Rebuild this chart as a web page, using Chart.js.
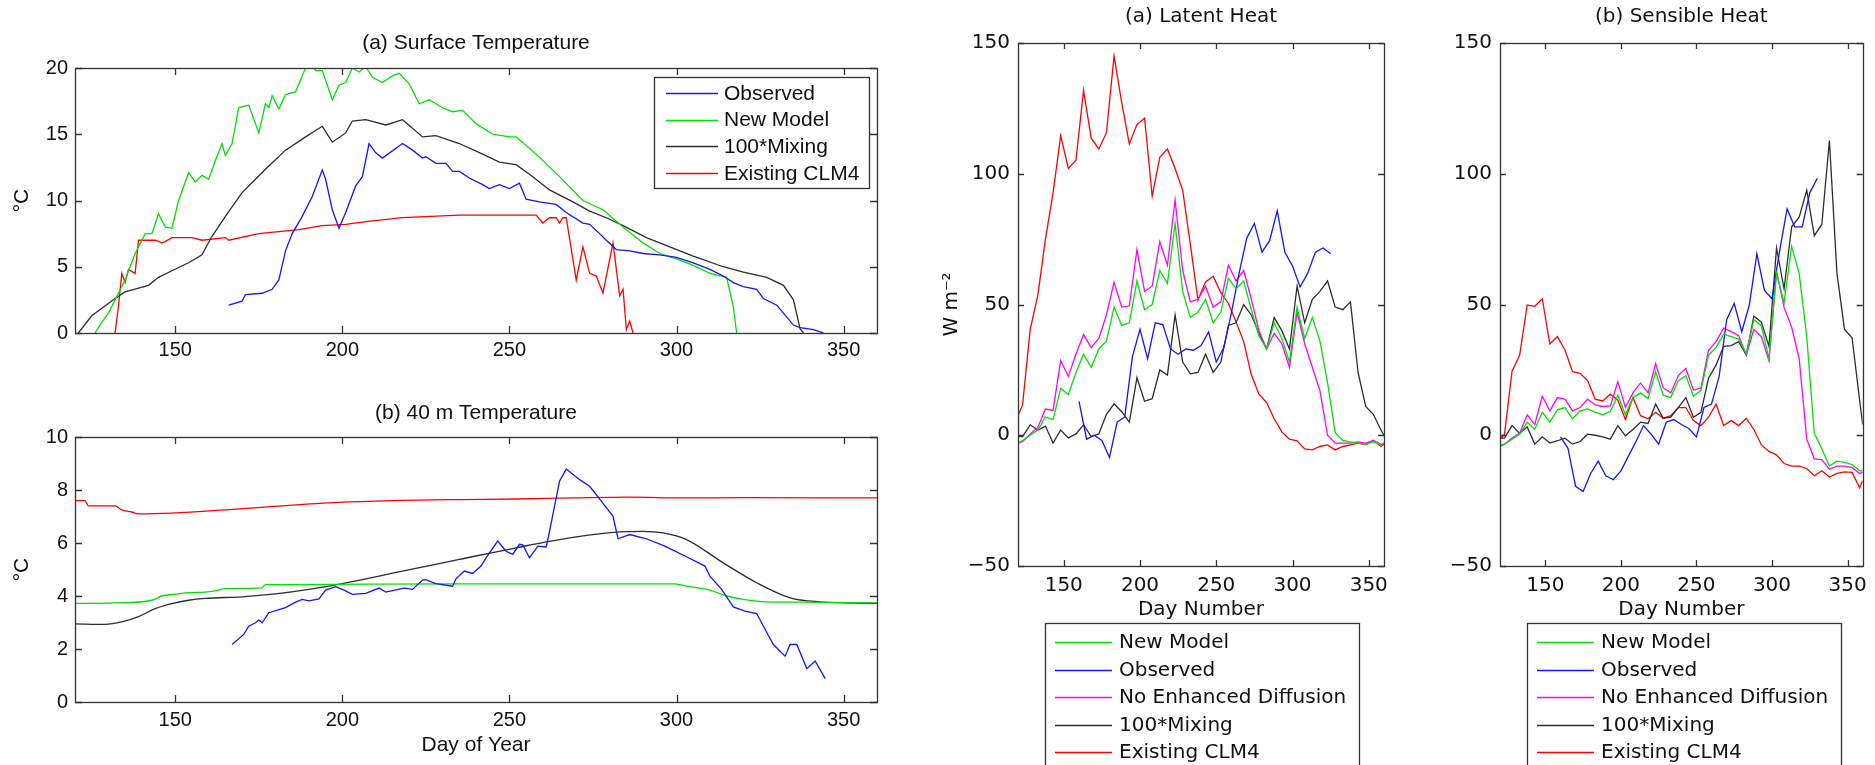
<!DOCTYPE html>
<html>
<head>
<meta charset="utf-8">
<title>Lake temperature and heat flux</title>
<script src="https://cdn.jsdelivr.net/npm/chart.js@4.4.1/dist/chart.umd.min.js"></script>
<style>
  body { margin: 0; background: #fff; }
  #wrap { position: relative; width: 1875px; height: 765px; overflow: hidden; }
  canvas { position: absolute; }
</style>
</head>
<body>
<div id="wrap">
  <canvas id="surf" width="900" height="380" style="left:0;top:0"></canvas>
  <canvas id="m40" width="900" height="385" style="left:0;top:380px"></canvas>
  <canvas id="latent" width="480" height="765" style="left:930px;top:0"></canvas>
  <canvas id="sensible" width="435" height="765" style="left:1440px;top:0"></canvas>
</div>
<script>
// ---- tick labels ----
const dayTicks = [150, 200, 250, 300, 350];
const surfTicks = [0, 5, 10, 15, 20];
const m40Ticks = [0, 2, 4, 6, 8, 10];
const fluxTicks = [-50, 0, 50, 100, 150];

// ---- (a) Surface Temperature, degC ----
const surfObsDays = [166, 170, 171, 176, 179, 181, 183, 185, 188, 191, 194, 195, 197, 199, 201, 204, 206, 208, 210, 212, 218, 221, 224, 225, 228, 231, 233, 235, 238, 242, 244, 247, 250, 253, 255, 259, 264, 267, 272, 274, 277, 279, 282, 286, 290, 295, 300, 305, 310, 314, 317, 320, 324, 326, 330, 332, 335, 337, 341, 344];
const surfObs = [2.1, 2.4, 2.9, 3.0, 3.3, 4.0, 6.2, 7.5, 8.8, 10.3, 12.3, 11.6, 9.3, 7.9, 9.1, 11.1, 11.8, 14.3, 13.6, 13.2, 14.3, 13.8, 13.2, 13.3, 12.8, 12.8, 12.2, 12.2, 11.7, 11.2, 10.9, 11.2, 10.9, 11.3, 10.1, 9.9, 9.7, 9.1, 8.3, 8.2, 7.5, 7.0, 6.3, 6.2, 6.0, 5.9, 5.7, 5.3, 4.8, 4.3, 3.8, 3.5, 3.3, 2.6, 2.1, 1.5, 0.6, 0.4, 0.25, 0];
const surfNewDays = [126, 128, 130, 132, 135, 138, 141, 143, 145, 147, 149, 151, 154, 156, 158, 160, 162, 164, 165, 167, 169, 172, 175, 177, 178, 179, 181, 183, 186, 189, 191, 192, 194, 197, 199, 201, 203, 205, 207, 209, 212, 215, 217, 220, 223, 226, 230, 233, 236, 240, 245, 250, 252, 258, 265, 272, 278, 284, 290, 295, 300, 305, 310, 315, 317, 318];
const surfNew = [0, 0.8, 1.5, 2.5, 4, 6, 7.5, 7.5, 9, 8, 7.9, 10, 12.1, 11.4, 11.9, 11.6, 13, 14.3, 13.4, 14.3, 17.0, 17.2, 15.1, 17.3, 17.0, 17.9, 16.9, 18.0, 18.2, 20.0, 20.2, 19.8, 19.8, 17.6, 18.7, 18.9, 20.0, 19.7, 20.1, 19.3, 18.9, 19.4, 19.6, 18.8, 17.3, 17.6, 17.0, 16.7, 16.8, 15.8, 15.0, 14.8, 14.8, 13.5, 11.8, 10.0, 9.3, 8.0, 6.8, 6.0, 5.6, 5.1, 4.5, 4.2, 2, 0];
const surfMixDays = [121, 125, 132, 135, 142, 145, 149, 154, 158, 161, 165, 170, 174, 178, 183, 189, 194, 197, 201, 203, 207, 213, 218, 224, 228, 235, 242, 247, 252, 257, 262, 269, 274, 279, 284, 291, 298, 305, 314, 320, 327, 332, 335, 337, 338];
const surfMix = [0, 1.3, 2.6, 3.1, 3.6, 4.2, 4.7, 5.3, 5.9, 7.3, 8.8, 10.6, 11.6, 12.6, 13.8, 14.8, 15.6, 14.4, 15.1, 16.0, 16.1, 15.7, 16.1, 14.8, 14.9, 14.3, 13.5, 12.9, 12.7, 11.8, 10.8, 9.9, 9.2, 8.7, 8.1, 7.2, 6.5, 5.8, 5.0, 4.6, 4.2, 3.6, 2.5, 0.3, 0];
const surfClmDays = [132, 133, 134, 135, 136, 138, 139, 144, 146, 147, 149, 155, 158, 165, 166, 175, 187, 194, 201, 207, 218, 235, 252, 258, 260, 262, 264, 265, 266, 267, 270, 272, 274, 276, 278, 281, 283, 284, 285, 286, 287];
const surfClm = [0, 2.0, 4.5, 3.8, 4.8, 4.5, 7.0, 7.0, 6.8, 6.9, 7.2, 7.2, 7.0, 7.2, 7.0, 7.5, 7.8, 8.1, 8.2, 8.4, 8.7, 8.9, 8.9, 8.9, 8.3, 8.7, 8.7, 8.3, 8.7, 8.7, 4.0, 6.5, 4.5, 4.3, 3.0, 6.8, 2.8, 3.3, 0.25, 0.9, 0];

// ---- (b) 40 m Temperature, degC ----
const m40ObsDays = [167, 170.5, 172, 174, 175, 176, 178, 183, 186, 188, 190, 193, 195, 198, 200.5, 203, 207, 211, 213, 218.5, 221, 224, 225, 228, 233, 234, 236.5, 239, 241.5, 243, 246.5, 249, 251, 253, 254, 256, 258.5, 261, 262, 265, 267, 271, 274, 277.5, 281, 282.5, 286, 291, 296.5, 303, 308.5, 310, 313.5, 317, 320.5, 324, 326, 329, 332.5, 334, 336, 339, 341.5, 344.5];
const m40Obs = [2.17, 2.55, 2.86, 2.99, 3.09, 2.99, 3.37, 3.56, 3.77, 3.87, 3.82, 3.89, 4.22, 4.35, 4.22, 4.06, 4.1, 4.3, 4.15, 4.3, 4.25, 4.6, 4.62, 4.47, 4.37, 4.65, 4.94, 4.85, 5.13, 5.44, 6.07, 5.69, 5.57, 5.95, 5.93, 5.44, 5.88, 5.85, 6.44, 8.33, 8.79, 8.39, 8.14, 7.58, 7.01, 6.16, 6.32, 6.16, 5.88, 5.48, 5.13, 4.75, 4.25, 3.59, 3.43, 3.34, 2.86, 2.17, 1.73, 2.17, 2.17, 1.26, 1.55, 0.88];
const m40NewDays = [120, 132, 143, 146, 151, 153, 159, 163, 165, 176, 177, 183, 235, 299, 303, 310, 315, 320, 327, 337, 360];
const m40New = [3.72, 3.74, 3.84, 4.0, 4.08, 4.12, 4.15, 4.22, 4.28, 4.31, 4.43, 4.43, 4.46, 4.46, 4.37, 4.22, 4.0, 3.87, 3.78, 3.77, 3.74];
const m40MixDays = [120, 129, 134, 139, 144, 149, 154, 159, 170, 180, 190, 200, 218, 235, 252, 269, 283, 290, 296, 303, 314, 324, 334, 343, 360];
const m40Mix = [2.95, 2.93, 3.02, 3.22, 3.52, 3.71, 3.84, 3.91, 3.97, 4.08, 4.25, 4.47, 4.94, 5.38, 5.82, 6.21, 6.42, 6.44, 6.38, 6.13, 5.25, 4.5, 3.93, 3.78, 3.72];
const m40ClmDays = [120, 123, 124, 128, 132, 134, 137, 139, 149, 166, 183, 200, 218, 235, 252, 269, 286, 303, 320, 360];
const m40Clm = [7.6, 7.6, 7.4, 7.4, 7.4, 7.25, 7.17, 7.1, 7.13, 7.26, 7.41, 7.54, 7.61, 7.64, 7.66, 7.7, 7.73, 7.7, 7.71, 7.7];

// ---- heat fluxes, W m-2 (5-day means) ----
const modelDays = [120, 123, 128, 133, 138, 143, 148, 153, 158, 163, 168, 173, 178, 183, 188, 193, 198, 203, 208, 213, 218, 223, 228, 233, 238, 243, 248, 253, 258, 263, 268, 273, 278, 283, 288, 293, 298, 303, 308, 313, 318, 323, 328, 333, 338, 343, 348, 353, 358, 360];
const obsLatentDays = [160, 165, 170, 175, 180, 185, 190, 195, 200, 205, 210, 215, 220, 225, 230, 235, 240, 245, 250, 255, 260, 265, 270, 275, 280, 285, 290, 295, 300, 305, 310, 315, 320, 325];
const obsSensibleDays = [160, 165, 170, 175, 180, 185, 190, 195, 200, 205, 210, 215, 220, 225, 230, 235, 240, 245, 250, 255, 260, 265, 270, 275, 280, 285, 290, 295, 300, 305, 310, 315, 320, 325, 330];

const latentNew = [-3, -2, 0, 2, 7, 6, 18, 15.5, 24, 31, 26, 33, 36, 49, 42, 43, 59, 48, 50, 63, 58, 81, 55, 45, 47, 52, 43, 47, 60, 56, 59, 48, 38, 33, 43, 37, 28, 49, 37, 45, 36, 20, 1, -2, -2.5, -3, -3.5, -2.5, -3.5, -3];
const latentObs = [13, -1.5, 0, -2, -8.5, 5, 7, 30, 40.5, 29.3, 43, 42.3, 33, 31, 33, 32.5, 34.3, 39.5, 28, 33.6, 47, 62, 75.4, 81, 70, 74.4, 85.8, 70, 64.7, 56.7, 62, 70, 71.6, 69.4];
const latentNoDiff = [-3, -2.5, 0.5, 3, 10, 9.5, 28.5, 22.5, 31, 38.5, 33.5, 37, 46, 58.5, 49, 49.5, 71, 55, 57, 74, 65, 90, 63, 51, 52, 57, 49, 51, 65, 59, 63, 52, 40, 33, 39, 35, 26, 47, 35, 26, 17, 0, -3, -3, -3, -2.5, -3, -2, -3.5, -3.5];
const latentMix = [-0.5, -0.5, 4, 2, 3.5, -3, 2, -1, 0.5, 4, -0.5, 0.5, 8, 12, 9, 5, 22, 13, 14, 25, 23, 46, 28, 23.5, 24, 31, 24, 28, 42, 43, 50, 46, 39, 33, 45, 40, 33, 57, 43, 52, 55, 59, 49, 48, 51, 24, 11, 8, 2, 0];
const latentClm = [7.5, 11.6, 40.5, 53.5, 75, 92.7, 114.6, 102, 105.2, 131.9, 113.6, 109.5, 115.7, 145, 127.2, 111.4, 118.8, 121.3, 91.4, 106.3, 109.5, 102, 93.7, 73.1, 51.7, 58.6, 60.8, 54.5, 50.4, 43.3, 35.8, 23.1, 15.7, 12.5, 6.3, 1.3, -1.5, -2.1, -5.2, -5.6, -4.3, -3.7, -5.6, -4.3, -3.7, -3.0, -3.7, -1.9, -4.3, -3.4];

const sensNew = [-3.7, -3.4, -1.5, 0.4, 5, 2.2, 8.8, 5, 9.7, 10.6, 6.3, 9.3, 10.1, 8.8, 7.8, 9.1, 15.3, 7.8, 14.4, 16.2, 14, 24.3, 15.3, 14.4, 20.9, 22.8, 14.9, 17.2, 30.6, 33.6, 38.6, 37.7, 36.8, 31.2, 44.2, 41.8, 29.3, 61.9, 50.7, 72.2, 61.9, 37.7, 0.7, -5.2, -11.8, -9.9, -10.4, -11.2, -13.6, -13.6];
const sensObs = [-0.6, -5, -19.5, -21.5, -14.6, -9.9, -15.5, -17, -13.6, -8, -2.4, 3.7, 0.4, -3.4, 5, 6, 4.1, 2.6, -0.6, 10.6, 11.9, 22.4, 44.2, 50.4, 39.6, 49.8, 69.4, 55.4, 52.2, 70.3, 86.6, 79.7, 79.7, 92.7, 98.3];
const sensNoDiff = [-4.3, -3.4, -1.1, 0.7, 7.8, 4.1, 14.9, 9.3, 14.4, 13.8, 9.3, 10.6, 13.8, 11.6, 11, 11.2, 20.5, 10.6, 16.2, 20, 16.2, 27.4, 18.1, 16.2, 22.8, 25.6, 17.2, 18.1, 32.5, 35.8, 41, 39.6, 38.1, 30.6, 40.5, 37.7, 28.4, 62.9, 48.9, 41.4, 29.3, -1.5, -9, -9.3, -13, -11.8, -11.8, -12.3, -14.6, -14.2];
const sensMix = [-1.1, -1.1, 3.7, 0.7, 3.2, -3.4, -0.6, -3, -2.1, -1.1, -3.4, -2.4, 0.4, 0, -0.6, -1.5, 3.7, -0.2, 2.2, 5, 4.5, 11.9, 6.5, 6.9, 10.6, 14.4, 6.9, 8.8, 21.8, 26.9, 34, 34.3, 35.8, 30.6, 45.5, 43.3, 34, 71.6, 56, 79.7, 83.4, 93.7, 76.3, 80.6, 112.7, 61.9, 40.5, 37.3, 13.4, 4.1];
const sensClm = [-1.5, 0.4, 24.6, 30.6, 49.8, 49.3, 52.2, 34.9, 37.7, 32.6, 24.3, 23.7, 20.9, 13.8, 13.1, 15.7, 13.4, 6, 14.4, 7.5, 6.3, 8.8, 6.5, 7.5, 10.6, 10.6, 5.6, 3.7, 6.9, 11.9, 3.7, 5.6, 3.7, 6.5, 2.2, -3.7, -6.2, -7.5, -10.8, -11.8, -11.8, -12.7, -15.5, -13.6, -16, -14.6, -14, -14.2, -20.1, -17.4];

const BLUE = 'rgb(20,20,255)', GREEN = 'rgb(0,225,0)', MAGENTA = 'rgb(255,0,255)', BLACK = 'rgb(45,45,45)', RED = 'rgb(255,0,0)';

const pts = (xs, ys) => xs.map((x, i) => ({ x: x, y: ys[i] }));
const line = (label, xs, ys, color, smooth) => ({
  label: label,
  data: pts(xs, ys),
  borderColor: color,
  borderWidth: 1.3,
  pointRadius: 0,
  fill: false,
  tension: 0,
  cubicInterpolationMode: smooth ? 'monotone' : 'default'
});

// MATLAB-style box: frame, inward ticks on all sides, titles and a boxed legend
const matBox = {
  id: 'matBox',
  afterDatasetsDraw(chart, args, o) {
    const ctx = chart.ctx, a = chart.chartArea;
    const x = chart.scales.x, y = chart.scales.y;
    ctx.save();
    ctx.strokeStyle = '#333';
    ctx.lineWidth = 1.3;
    ctx.beginPath();
    x.ticks.forEach(t => {
      const p = Math.round(x.getPixelForValue(t.value)) + 0.5;
      ctx.moveTo(p, a.bottom); ctx.lineTo(p, a.bottom - o.tick);
      ctx.moveTo(p, a.top); ctx.lineTo(p, a.top + o.tick);
    });
    y.ticks.forEach(t => {
      const p = Math.round(y.getPixelForValue(t.value)) + 0.5;
      ctx.moveTo(a.left, p); ctx.lineTo(a.left + o.tick, p);
      ctx.moveTo(a.right, p); ctx.lineTo(a.right - o.tick, p);
    });
    ctx.stroke();
    ctx.strokeRect(Math.round(a.left) + 0.5, Math.round(a.top) + 0.5, Math.round(a.width), Math.round(a.height));

    ctx.fillStyle = '#111';
    ctx.font = o.font;
    ctx.textAlign = 'center';
    ctx.textBaseline = 'middle';
    const cx = (a.left + a.right) / 2;
    if (o.title) ctx.fillText(o.title, cx, o.titleY);
    if (o.xLabel) ctx.fillText(o.xLabel, cx, o.xLabelY);
    if (o.yLabel) {
      ctx.save();
      ctx.translate(o.yLabelX, (a.top + a.bottom) / 2);
      ctx.rotate(-Math.PI / 2);
      ctx.fillText(o.yLabel, 0, 0);
      ctx.restore();
    }

    const lg = o.legend;
    if (lg) {
      ctx.fillStyle = '#fff';
      ctx.fillRect(lg.left, lg.top, lg.width, lg.height);
      ctx.strokeStyle = '#333';
      ctx.lineWidth = 1.3;
      ctx.strokeRect(lg.left + 0.5, lg.top + 0.5, lg.width, lg.height);
      ctx.textAlign = 'left';
      chart.data.datasets.forEach((ds, i) => {
        const ry = lg.top + lg.firstRow + i * lg.rowStep;
        ctx.strokeStyle = ds.borderColor;
        ctx.lineWidth = 1.3;
        ctx.beginPath();
        ctx.moveTo(lg.left + lg.sample[0], Math.round(ry) + 0.5);
        ctx.lineTo(lg.left + lg.sample[1], Math.round(ry) + 0.5);
        ctx.stroke();
        ctx.fillStyle = '#111';
        ctx.fillText(ds.label, lg.left + lg.textX, ry + 1);
      });
    }
    ctx.restore();
  }
};

function makeChart(id, datasets, opt) {
  const fixedTicks = vals => scale => { scale.ticks = vals.map(v => ({ value: v })); };
  const minus = v => (v < 0 ? '\u2212' + Math.abs(v) : String(v));
  return new Chart(document.getElementById(id), {
    type: 'line',
    data: { datasets: datasets },
    options: {
      responsive: false,
      animation: false,
      devicePixelRatio: 1,
      events: [],
      layout: { padding: { left: 0, top: opt.top, right: opt.right, bottom: 0 } },
      scales: {
        x: {
          type: 'linear', min: 120, max: 360,
          grid: { display: false, drawTicks: false },
          border: { display: false },
          afterBuildTicks: fixedTicks(dayTicks),
          afterFit: s => { s.height = opt.xHeight; },
          ticks: { padding: opt.xPad, color: '#111', font: { family: opt.family, size: opt.tickSize }, maxRotation: 0 }
        },
        y: {
          min: opt.yMin, max: opt.yMax,
          grid: { display: false, drawTicks: false },
          border: { display: false },
          afterBuildTicks: fixedTicks(opt.yTicks),
          afterFit: s => { s.width = opt.yWidth; },
          ticks: { padding: opt.yPad, color: '#111', font: { family: opt.family, size: opt.tickSize }, callback: minus }
        }
      },
      plugins: {
        legend: { display: false },
        tooltip: { enabled: false },
        matBox: opt.box
      }
    },
    plugins: [matBox]
  });
}

const leftFont = '"Liberation Sans", Arial, sans-serif';
const rightFont = '"DejaVu Sans", Verdana, sans-serif';

makeChart('surf', [
  line('Observed', surfObsDays, surfObs, BLUE),
  line('New Model', surfNewDays, surfNew, GREEN),
  line('100*Mixing', surfMixDays, surfMix, BLACK),
  line('Existing CLM4', surfClmDays, surfClm, RED)
], {
  family: leftFont, tickSize: 20, top: 68, right: 23, xHeight: 47, yWidth: 75, xPad: 5, yPad: 7,
  yMin: 0, yMax: 20, yTicks: surfTicks,
  box: {
    tick: 7, font: '21px ' + leftFont,
    title: '(a) Surface Temperature', titleY: 43,
    yLabel: '°C', yLabelX: 22,
    legend: { left: 654, top: 77, width: 215, height: 111, firstRow: 16, rowStep: 26.7, sample: [12, 64], textX: 70 }
  }
});

makeChart('m40', [
  line('Observed', m40ObsDays, m40Obs, BLUE),
  line('New Model', m40NewDays, m40New, GREEN, true),
  line('100*Mixing', m40MixDays, m40Mix, BLACK, true),
  line('Existing CLM4', m40ClmDays, m40Clm, RED, true)
], {
  family: leftFont, tickSize: 20, top: 57, right: 23, xHeight: 63, yWidth: 75, xPad: 6, yPad: 7,
  yMin: 0, yMax: 10, yTicks: m40Ticks,
  box: {
    tick: 7, font: '21px ' + leftFont,
    title: '(b) 40 m Temperature', titleY: 33,
    xLabel: 'Day of Year', xLabelY: 365,
    yLabel: '°C', yLabelX: 22
  }
});

const fluxLegend = { top: 623, width: 314, height: 170, firstRow: 19, rowStep: 27.5, sample: [10, 67], textX: 74 };

makeChart('latent', [
  line('New Model', modelDays, latentNew, GREEN),
  line('Observed', obsLatentDays, latentObs, BLUE),
  line('No Enhanced Diffusion', modelDays, latentNoDiff, MAGENTA),
  line('100*Mixing', modelDays, latentMix, BLACK),
  line('Existing CLM4', modelDays, latentClm, RED)
], {
  family: rightFont, tickSize: 20, top: 43, right: 26, xHeight: 199, yWidth: 88, xPad: 8, yPad: 8,
  yMin: -50, yMax: 150, yTicks: fluxTicks,
  box: {
    tick: 6, font: '20px ' + rightFont,
    title: '(a) Latent Heat', titleY: 17,
    xLabel: 'Day Number', xLabelY: 610,
    yLabel: 'W m\u207B\u00B2', yLabelX: 22,
    legend: Object.assign({ left: 115 }, fluxLegend)
  }
});

makeChart('sensible', [
  line('New Model', modelDays, sensNew, GREEN),
  line('Observed', obsSensibleDays, sensObs, BLUE),
  line('No Enhanced Diffusion', modelDays, sensNoDiff, MAGENTA),
  line('100*Mixing', modelDays, sensMix, BLACK),
  line('Existing CLM4', modelDays, sensClm, RED)
], {
  family: rightFont, tickSize: 20, top: 43, right: 9, xHeight: 199, yWidth: 60, xPad: 8, yPad: 8,
  yMin: -50, yMax: 150, yTicks: fluxTicks,
  box: {
    tick: 6, font: '20px ' + rightFont,
    title: '(b) Sensible Heat', titleY: 17,
    xLabel: 'Day Number', xLabelY: 610,
    legend: Object.assign({ left: 87 }, fluxLegend)
  }
});
</script>
</body>
</html>
